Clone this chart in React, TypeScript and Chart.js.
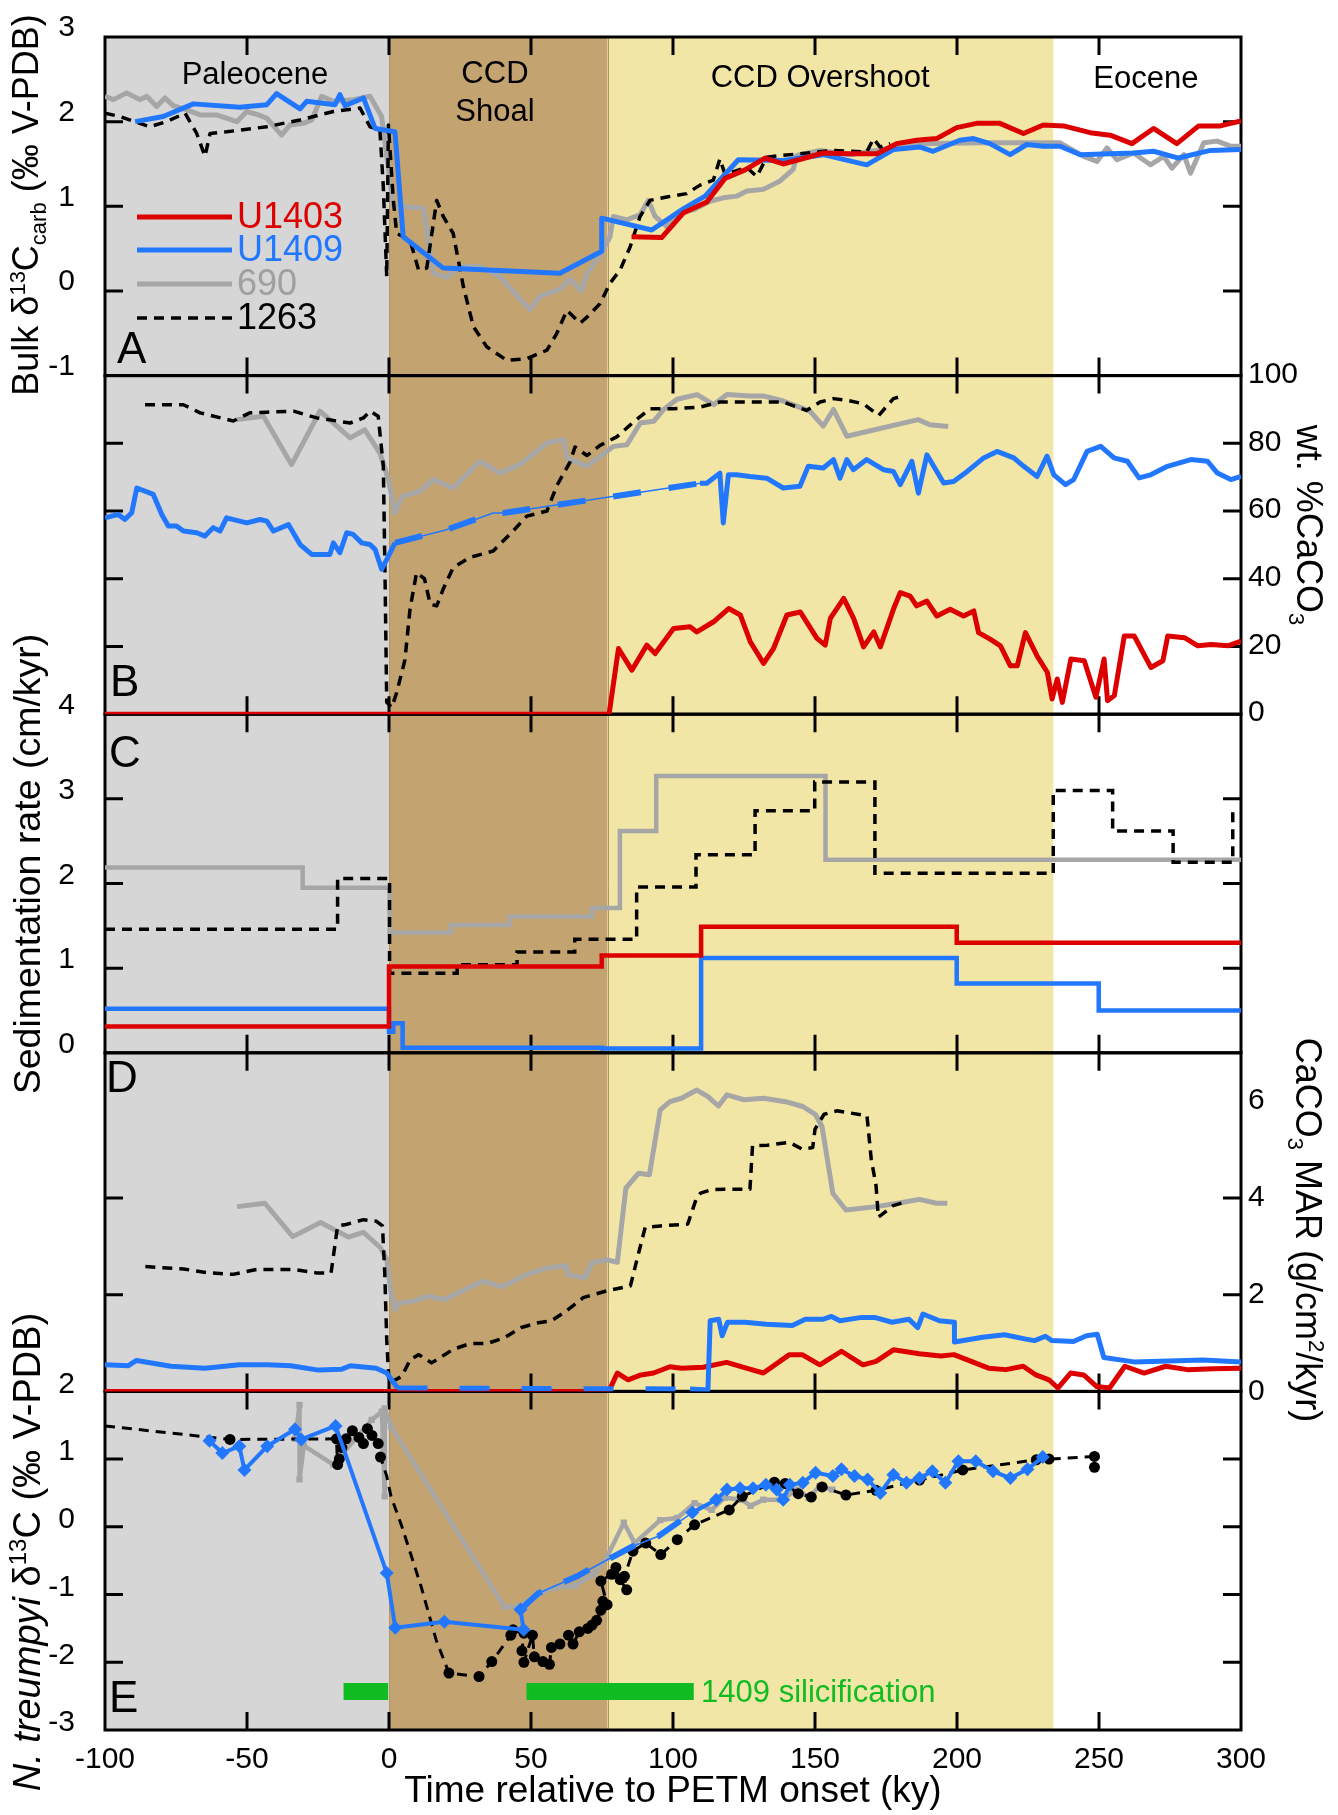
import React, { useEffect, useRef } from 'react';
import { Chart, registerables } from 'chart.js';

Chart.register(...registerables);

const FONT = '"Liberation Sans", Arial, Helvetica, sans-serif';
const RED = '#dd0000';
const BLUE = '#2277ff';
const GRAY = '#a6a6a6';
const BLACK = '#000000';
const GREEN = '#11bb22';

// ---------- axes / ticks ----------
const X_TICKS = [-100, -50, 0, 50, 100, 150, 200, 250, 300];
const A_TICKS = [-1, 0, 1, 2, 3];
const B_TICKS = [0, 20, 40, 60, 80, 100];
const C_TICKS = [0, 1, 2, 3, 4];
const D_TICKS = [0, 2, 4, 6];
const E_TICKS = [-3, -2, -1, 0, 1, 2];

// background intervals (ky)
const REGION_EDGES = [-100, 0, 77, 234, 300];
const REGION_COLORS = ['#d6d6d6', '#c3a370', '#f2e6a6', '#ffffff'];

// ---------- Panel A: bulk d13C ----------
const A_U1403_T = [85.4, 96, 103.6, 111.9, 118.3, 125.4, 132.4, 138.8, 152.9, 162, 171.8, 178.7, 185.8, 192.8, 199.9, 206.9, 215.1, 223.4, 230.4, 237.5, 246.9, 253.9, 261.6, 269.2, 277.4, 285.1, 292.7, 300];
const A_U1403_V = [0.64, 0.63, 0.92, 1.05, 1.33, 1.43, 1.57, 1.5, 1.63, 1.62, 1.62, 1.74, 1.78, 1.8, 1.93, 1.98, 1.98, 1.86, 1.96, 1.95, 1.87, 1.84, 1.74, 1.92, 1.74, 1.95, 1.95, 2.01];
const A_U1409_T = [-89.4, -79.5, -68.9, -52.5, -43, -39.6, -31.3, -29, -19, -17.3, -15.5, -9, -4.9, 2.1, 5.0, 19.1, 60.2, 74.9, 74.9, 92.5, 103.6, 111.3, 123, 138.8, 152.9, 168.2, 177.6, 187, 191.6, 201, 205.8, 211.6, 218.7, 224.6, 230.4, 236.3, 243.4, 254, 262.2, 269.2, 278, 289.2, 300];
const A_U1409_V = [2.0, 2.06, 2.21, 2.17, 2.2, 2.33, 2.15, 2.24, 2.2, 2.32, 2.19, 2.28, 1.92, 1.88, 0.64, 0.27, 0.21, 0.47, 0.86, 0.72, 0.97, 1.12, 1.55, 1.54, 1.61, 1.49, 1.67, 1.7, 1.65, 1.78, 1.8, 1.74, 1.61, 1.73, 1.71, 1.71, 1.61, 1.62, 1.63, 1.65, 1.57, 1.66, 1.67];
const A_690_T = [-100, -97, -92.4, -87.7, -85.3, -81.8, -78.9, -76, -71.2, -66.5, -60.7, -53.6, -50.1, -46, -43, -37.8, -34.9, -30.2, -27.2, -23.7, -19.6, -12.6, -6.7, -2.6, 1.5, 12.1, 15.6, 20.3, 25, 32, 39, 49.6, 53.2, 60.2, 63.7, 67.8, 69.6, 74.3, 77.8, 79, 83.7, 88.4, 91.3, 93.7, 97.8, 102.5, 107.2, 113, 117.7, 122.4, 126, 131.8, 137.7, 142.4, 143.5, 151.8, 162.3, 185.8, 209.3, 236.3, 244.6, 249.3, 252.8, 256.3, 262.2, 268.1, 272.8, 275.7, 279.9, 282.2, 286.9, 291.6, 296.3, 300];
const A_690_V = [2.3, 2.26, 2.34, 2.26, 2.3, 2.18, 2.28, 2.19, 2.14, 2.08, 2.08, 2.0, 2.12, 2.08, 2.04, 1.84, 1.96, 1.98, 2.02, 2.3, 2.24, 2.26, 2.3, 2.06, 1.0, 0.98, 0.21, 0.16, 0.29, 0.29, 0.17, -0.22, -0.06, 0.02, 0.14, 0.0, 0.2, 0.42, 0.64, 0.88, 0.84, 0.9, 1.07, 0.88, 0.76, 0.92, 0.96, 1.06, 1.1, 1.12, 1.18, 1.2, 1.3, 1.44, 1.6, 1.66, 1.61, 1.74, 1.75, 1.75, 1.59, 1.53, 1.69, 1.55, 1.63, 1.49, 1.59, 1.45, 1.61, 1.39, 1.75, 1.77, 1.71, 1.71];
const A_1263_T = [-100, -94.7, -84.2, -78.3, -71.8, -67.7, -64.8, -63, -57.2, -43, -31.3, -19.6, -10.2, -6.7, -3.2, -2, -0.8, -0.2, 1.5, 2.7, 7.4, 10.4, 13.3, 16.8, 19.1, 22.6, 26.2, 29.7, 34.4, 41.5, 48.5, 55.6, 59.1, 62.6, 67.3, 69.7, 74.3, 77.8, 81.4, 84.9, 88.4, 91.9, 97.8, 104.8, 109.5, 114.2, 116.5, 118.3, 122.4, 126, 129.5, 133, 137.7, 144.7, 156.5, 168.2, 170.6, 172.9, 176.5];
const A_1263_V = [2.1, 2.06, 1.94, 2.0, 2.1, 1.86, 1.59, 1.86, 1.88, 1.94, 2.02, 2.12, 2.16, 1.94, 1.9, 1.23, 0.17, 1.96, 1.08, 0.68, 0.6, 0.25, 0.27, 1.07, 0.88, 0.68, 0.05, -0.42, -0.66, -0.82, -0.8, -0.7, -0.5, -0.23, -0.38, -0.31, -0.15, 0.09, 0.25, 0.52, 0.88, 1.07, 1.11, 1.15, 1.25, 1.31, 1.56, 1.38, 1.42, 1.46, 1.35, 1.58, 1.6, 1.62, 1.66, 1.64, 1.8, 1.7, 1.74];

// ---------- Panel B: wt% CaCO3 ----------
const B_U1403_T = [-100, 77.5, 80.8, 85.5, 90.8, 93.7, 100.2, 106, 108.4, 114.3, 119.6, 123.7, 127.2, 131.9, 135.4, 140.1, 144.8, 150.7, 153.6, 155.4, 160.1, 163.6, 167.1, 170.7, 173, 177.7, 180, 183.5, 185.8, 189.4, 192.9, 197.6, 202.3, 205.9, 207.6, 211.8, 215.3, 218.8, 221.2, 224.1, 228.2, 231.8, 233.5, 235.3, 237.1, 240.1, 244.8, 248.9, 251.8, 253, 255.4, 258.9, 262.4, 268.3, 272.5, 274.2, 280.1, 284.8, 289.5, 295.4, 300];
const B_U1403_V = [0, 0, 19.4, 13, 20.4, 17.9, 25.3, 25.8, 24.3, 27.3, 31.2, 29.3, 21.4, 15, 19.4, 29.3, 30.2, 22.4, 20.4, 28.3, 34.2, 28.3, 19.9, 24.3, 19.9, 31.2, 35.9, 34.9, 32, 33.4, 29, 31, 29, 30.5, 24.1, 22.1, 20.2, 14.3, 14.3, 24.1, 17.2, 12.4, 4.5, 10.4, 3.5, 16.3, 15.8, 5, 16.3, 4, 5.5, 23.1, 23.1, 13.8, 15.8, 23.1, 22.6, 20.2, 20.6, 20.2, 21.6];
const B_U1409_PRE_T = [-100, -95.3, -93, -90.6, -88.8, -83, -80, -77.7, -74.8, -72.4, -67.7, -64.8, -61.9, -59.5, -57.2, -50.1, -45.4, -43, -40.7, -35.4, -31.3, -27.2, -20.8, -19.6, -17.3, -14.9, -12.6, -9.6, -6.7, -4.9, -2.6, -0.2, 2.1];
const B_U1409_PRE_V = [58, 59, 57.5, 59.5, 66.8, 64.9, 59, 55.6, 55.6, 54.1, 53.6, 52.6, 55.1, 54.1, 58, 56.5, 57.5, 57, 54.1, 56, 50.1, 47.2, 47.2, 50.6, 47.7, 53.6, 53.1, 50.6, 50.1, 48.7, 42.8, 46.7, 50.6];
const B_U1409_GAP_T = [2.1, 20.3, 36.7, 40.2, 109.5];
const B_U1409_GAP_V = [50.6, 54.5, 59.4, 59.4, 68.2];
const B_U1409_POST_T = [109.5, 111.9, 116.5, 117.7, 119.5, 122.4, 127.1, 133, 138.8, 144.7, 147.6, 152.9, 156.5, 158.8, 161.2, 163.5, 168.2, 174.1, 177.6, 180, 184.1, 186.4, 189.4, 195.3, 198.8, 203.6, 209.4, 214.1, 220, 223.5, 228.2, 231.7, 234.1, 238.2, 241.1, 245.8, 250.6, 255.3, 260, 264.1, 268.2, 274.1, 282.3, 288.2, 291.7, 296.4, 300];
const B_U1409_POST_V = [68.2, 68.2, 71.2, 56.5, 70.7, 70.7, 70.2, 69.7, 66.8, 67.3, 73.2, 72.7, 75.2, 69.7, 75.2, 72.2, 75.2, 72.2, 71.7, 67.8, 74.7, 65.3, 76.6, 68.3, 68.7, 71.7, 75.7, 77.6, 75.7, 73.2, 70.2, 76.2, 70.7, 67.8, 69.3, 77.6, 79.1, 75.7, 74.7, 69.8, 70.7, 73.2, 75.2, 74.7, 71.2, 69.3, 70.2];
const B_690_T = [-53.6, -44.2, -34.3, -24.3, -13.7, -8.5, -3.2, -0.2, 2.1, 4.5, 10.9, 15.6, 22.6, 32, 39, 46.1, 55.6, 61.5, 62.6, 69.7, 79.1, 83.8, 88.5, 93.2, 96.7, 101.4, 108.5, 114.3, 119, 127.1, 131.8, 138.8, 148.2, 152.9, 156.5, 161.2, 186.3, 190.5, 196.9];
const B_690_V = [87, 88, 73.7, 89.5, 81.6, 84, 77.1, 69.3, 59.4, 64.3, 65.8, 69.3, 66.8, 74.7, 71.2, 73.7, 80.1, 81.1, 75.7, 73.2, 79.1, 79.6, 86, 86.5, 90, 93, 94.4, 91.4, 94.4, 94, 94, 92.5, 89.5, 85.1, 90, 82.1, 87, 85.5, 85];
const B_1263_T = [-85.9, -72.4, -66.5, -54.8, -49, -43, -33.6, -25.4, -13.7, -9, -6.7, -3.8, -2, -1.4, -0.8, 1, 2.7, 5.6, 7.4, 9.7, 12.5, 14.5, 16.8, 19.1, 22.6, 28.5, 36.7, 43.8, 48.5, 55.6, 59.1, 63.7, 65.5, 69.7, 74.3, 80.2, 86.1, 91.9, 100.1, 109.5, 116.5, 127.1, 138.8, 147, 151.8, 156.5, 161.2, 167, 172.4, 177.6, 181.6];
const B_1263_V = [91.4, 91.4, 89, 86.6, 89, 89.2, 89.5, 87.5, 86, 87.5, 89.5, 88, 73.3, 40.9, 3.5, 2, 6.4, 16, 31, 41.8, 40, 32.5, 32, 37, 43.3, 46.3, 48.2, 54.2, 58.5, 60, 67.5, 74.4, 78.9, 76.4, 79.4, 81.9, 86.3, 90.2, 90.2, 90.7, 92.2, 92.2, 92.2, 89.7, 92.2, 93.2, 92.7, 91.7, 88.2, 93.2, 94.2];

// ---------- Panel C: sedimentation rate (step functions) ----------
const C_U1403_T = [-100, 0, 74.9, 109.9, 199.9, 300];
const C_U1403_V = [0.31, 1.02, 1.15, 1.49, 1.3, 1.3];
const C_U1409_T = [-100, 0, 1.5, 4.8, 75, 109.9, 199.9, 249.9, 300];
const C_U1409_V = [0.52, 0.25, 0.35, 0.06, 0.05, 1.12, 0.82, 0.5, 0.5];
const C_690_T = [-100, -30.4, 0.2, 21.8, 42.4, 71.4, 81.3, 94.1, 153.7, 300];
const C_690_V = [2.19, 1.95, 1.42, 1.51, 1.61, 1.71, 2.62, 3.27, 2.28, 2.28];
const C_1263_T = [-100, -18.1, 0.2, 24, 45.1, 65.4, 87.2, 108.1, 128.9, 149.9, 171.1, 233.9, 254.8, 276.1, 297.1, 300];
const C_1263_V = [1.46, 2.06, 0.94, 1.04, 1.19, 1.34, 1.96, 2.34, 2.86, 3.2, 2.12, 3.1, 2.62, 2.25, 2.82, 2.82];

// ---------- Panel D: CaCO3 MAR ----------
const D_U1403_T = [-100, 77.4, 80.4, 84.2, 88.7, 93.2, 98.9, 103, 110.6, 118.9, 125.8, 131.8, 141, 145.5, 151.7, 159.3, 166.9, 171.5, 177.6, 186.7, 194.3, 198.9, 205, 211.1, 217.2, 223.3, 227.8, 232.4, 235.5, 240, 244.6, 249.2, 253.7, 259.1, 265.9, 273.5, 281.1, 290.3, 300];
const D_U1403_V = [0, 0, 0.38, 0.24, 0.34, 0.38, 0.51, 0.48, 0.5, 0.6, 0.48, 0.38, 0.76, 0.76, 0.55, 0.83, 0.55, 0.62, 0.86, 0.78, 0.73, 0.76, 0.62, 0.48, 0.45, 0.52, 0.34, 0.24, 0.07, 0.38, 0.34, 0.1, 0.07, 0.52, 0.38, 0.52, 0.45, 0.47, 0.48];
const D_U1409_PRE_T = [-100, -91.9, -88.9, -76.8, -64.8, -52.7, -42.9, -34.6, -24.8, -16.6, -13.6, -4.5, -0.8, 3];
const D_U1409_PRE_V = [0.55, 0.53, 0.64, 0.52, 0.48, 0.55, 0.55, 0.53, 0.44, 0.46, 0.53, 0.48, 0.38, 0.07];
const D_U1409_GAP_T = [3, 106];
const D_U1409_GAP_V = [0.07, 0.05];
const D_U1409_POST_T = [106, 112.3, 113.1, 116.1, 117.3, 119.2, 125.3, 132.9, 142, 146.6, 152.7, 155.8, 158.8, 166.4, 171, 177.1, 183.1, 186.2, 188, 193.8, 199.1, 199.1, 209, 216.7, 224.3, 227.3, 231.1, 233.4, 241, 245.6, 249.4, 251.7, 262.3, 274.5, 286.7, 300];
const D_U1409_POST_V = [0.05, 0.03, 1.46, 1.49, 1.15, 1.43, 1.43, 1.39, 1.36, 1.49, 1.49, 1.55, 1.46, 1.53, 1.53, 1.43, 1.49, 1.32, 1.6, 1.46, 1.43, 1.02, 1.12, 1.17, 1.08, 1.05, 1.14, 1.05, 1.03, 1.15, 1.18, 0.7, 0.61, 0.63, 0.65, 0.61];
const D_690_T = [-53.5, -43.7, -33.9, -24.1, -14.3, -9, -3, -0.8, 0.7, 2.2, 3.7, 9, 13.5, 19.5, 25.5, 33.1, 39.8, 48.1, 55.6, 62.4, 63.1, 69.1, 71.4, 76.7, 80.4, 83.4, 87.9, 91.7, 95.5, 98.9, 103, 108.4, 112.2, 116, 119, 125, 131.9, 139.6, 145.7, 150.2, 152.5, 156.3, 160.9, 171.5, 179.1, 186.8, 192.8, 196.6];
const D_690_V = [3.82, 3.89, 3.2, 3.49, 3.19, 3.29, 2.97, 2.73, 2.04, 1.69, 1.83, 1.87, 1.97, 1.9, 2.07, 2.28, 2.16, 2.41, 2.55, 2.6, 2.41, 2.35, 2.66, 2.72, 2.67, 4.2, 4.51, 4.48, 5.82, 5.99, 6.06, 6.23, 6.1, 5.9, 6.13, 6.03, 6.06, 5.99, 5.89, 5.72, 5.47, 4.09, 3.75, 3.82, 3.89, 3.97, 3.89, 3.89];
const D_1263_T = [-85.8, -72.3, -63.3, -55, -46.7, -33.2, -25.6, -20.4, -18.1, -15.1, -9, -4.5, -2.3, -1.5, -0.8, 0, 4.5, 7.5, 10.5, 15, 22.6, 28.6, 34.6, 40.6, 46.6, 52.6, 57.2, 62.4, 68.4, 76.7, 85, 87.2, 90.2, 95.5, 105.2, 108.3, 109.7, 113.5, 118.1, 127.1, 128, 133.2, 140.9, 145.4, 149.2, 150, 153.2, 157.7, 168.3, 169.8, 171.5, 172.3, 177.5, 181.4];
const D_1263_V = [2.58, 2.53, 2.45, 2.42, 2.52, 2.52, 2.45, 2.45, 3.42, 3.45, 3.55, 3.52, 3.42, 2.45, 1.07, 0.17, 0.31, 0.66, 0.76, 0.59, 0.87, 0.99, 0.99, 1.11, 1.32, 1.42, 1.46, 1.66, 1.94, 2.08, 2.18, 2.7, 3.39, 3.42, 3.46, 4.0, 4.1, 4.17, 4.18, 4.18, 5.08, 5.09, 5.15, 5.01, 5.04, 5.42, 5.73, 5.8, 5.7, 4.8, 4.25, 3.6, 3.84, 3.91];

// ---------- Panel E: N. treumpyi d13C ----------
const E_U1409_PRE_T = [-63.2, -58.7, -52.7, -50.9, -42.9, -33.1, -30.9, -18.8, -0.8, 2.2, 19.5, 47.4, 46.3];
const E_U1409_PRE_V = [1.27, 1.09, 1.19, 0.84, 1.19, 1.44, 1.29, 1.49, -0.68, -1.49, -1.4, -1.52, -1.22];
const E_U1409_GAP_T = [46.3, 52.6, 66.2, 76.7, 85.7, 94.8, 106.8];
const E_U1409_GAP_V = [-1.22, -0.98, -0.73, -0.49, -0.29, -0.14, 0.21];
const E_U1409_POST_T = [106.8, 115.2, 119, 123.6, 128.2, 132.7, 136.5, 138.8, 141.1, 145.7, 150.2, 156.3, 159.3, 163.9, 168.5, 173, 177.6, 182.2, 186.8, 191.3, 195.9, 200.5, 206.6, 212.7, 218.8, 224.8, 230.2];
const E_U1409_POST_V = [0.21, 0.4, 0.55, 0.57, 0.57, 0.62, 0.55, 0.4, 0.62, 0.65, 0.8, 0.75, 0.85, 0.75, 0.7, 0.5, 0.77, 0.65, 0.72, 0.82, 0.65, 0.97, 0.97, 0.82, 0.72, 0.85, 1.03];
const E_690_T = [-33, -31.5, -31.5, -30, -19.6, -6.1, -2.5, -1.5, -1.5, 0.7, 40.6, 45.9, 52.6, 58.6, 65.4, 72.2, 76.7, 82.7, 86.5, 95.5, 101.5, 107.6, 113.6, 118.2, 124.2, 127.3, 131.8, 137.9, 144, 147.8, 151.6, 156.1];
const E_690_V = [1.3, 1.8, 0.7, 1.2, 0.92, 1.58, 1.7, 0.45, 1.75, 1.48, -1.18, -1.18, -0.98, -0.9, -0.87, -0.7, -0.45, 0.06, -0.24, 0.1, 0.13, 0.35, 0.25, 0.43, 0.4, 0.31, 0.4, 0.4, 0.55, 0.43, 0.6, 0.55];
const E_1263_T = [-100, -56, -18.5, -18.1, -17.5, -16.6, -15.1, -12.9, -10.6, -9, -7.6, -6, -3.8, -3, -0.8, 0.7, 4.5, 11.3, 16.6, 21.1, 31.7, 36.2, 42.9, 43.7, 47.5, 46.8, 47.5, 50.5, 51.2, 54.2, 56.5, 57.2, 60.2, 63.2, 64.8, 67, 70, 71.5, 73.1, 74.6, 75.3, 76.8, 74.6, 78.4, 79.9, 81.4, 83.7, 82.9, 85.9, 90.4, 95.7, 101.5, 107.6, 119.8, 124.4, 135.7, 139.5, 144.1, 148.7, 152.5, 160.9, 171.5, 186.8, 202, 227.9, 232.4, 248.4, 248.4];
const E_1263_V = [1.49, 1.29, 1.3, 0.92, 1.0, 1.17, 1.3, 1.42, 1.32, 1.23, 1.45, 1.35, 1.23, 1.03, 0.75, 0.45, 0.01, -0.88, -1.67, -2.16, -2.21, -1.99, -1.6, -1.52, -1.57, -1.83, -2.0, -1.6, -1.92, -1.99, -2.03, -1.78, -1.73, -1.6, -1.73, -1.55, -1.5, -1.45, -1.38, -1.23, -1.1, -1.15, -0.8, -0.7, -0.6, -0.78, -0.93, -0.73, -0.36, -0.24, -0.41, -0.19, 0.03, 0.25, 0.45, 0.66, 0.64, 0.49, 0.44, 0.59, 0.47, 0.54, 0.69, 0.84, 0.99, 1.0, 1.04, 0.88];
const E_SILICA1_T = [-16, -0.3];
const E_SILICA2_T = [48.4, 107.3];
const E_SILICA_V = [-2.43, -2.43];

// ---------- helpers ----------
const pts = (t: number[], v: number[]) => t.map((x, i) => ({ x, y: v[i] }));

function ds(yAxisID: string, t: number[], v: number[], color: string, width: number, extra: any = {}) {
  return {
    type: 'line',
    yAxisID,
    data: pts(t, v),
    borderColor: color,
    backgroundColor: color,
    borderWidth: width,
    pointRadius: 0,
    pointHoverRadius: 0,
    fill: false,
    tension: 0,
    borderJoinStyle: 'round',
    ...extra,
  };
}

type Seg = [string, 'n' | 'i' | 'sup' | 'sub'];

function drawRich(ctx: CanvasRenderingContext2D, segs: Seg[], x: number, y: number, rot: number, size: number) {
  ctx.save();
  ctx.translate(x, y);
  ctx.rotate(rot);
  const fontFor = (k: string) =>
    `${k === 'i' ? 'italic ' : ''}${k === 'sup' || k === 'sub' ? Math.round(size * 0.62) : size}px ${FONT}`;
  let total = 0;
  const widths = segs.map(([t, k]) => {
    ctx.font = fontFor(k);
    const w = ctx.measureText(t).width;
    total += w;
    return w;
  });
  let cx = -total / 2;
  ctx.textAlign = 'left';
  ctx.textBaseline = 'alphabetic';
  ctx.fillStyle = '#000';
  segs.forEach(([t, k], i) => {
    ctx.font = fontFor(k);
    const dy = k === 'sup' ? -size * 0.36 : k === 'sub' ? size * 0.22 : 0;
    ctx.fillText(t, cx, dy);
    cx += widths[i];
  });
  ctx.restore();
}

const PANELS = [
  { id: 'yA', ticks: A_TICKS },
  { id: 'yB', ticks: B_TICKS },
  { id: 'yC', ticks: C_TICKS },
  { id: 'yD', ticks: D_TICKS },
  { id: 'yE', ticks: E_TICKS },
];

const framePlugin = {
  id: 'frame',
  beforeDatasetsDraw(chart: any) {
    const { ctx, chartArea: ca, scales } = chart;
    const xs = scales.x;
    ctx.save();
    for (let i = 0; i < REGION_EDGES.length - 1; i++) {
      const x0 = xs.getPixelForValue(REGION_EDGES[i]);
      const x1 = xs.getPixelForValue(REGION_EDGES[i + 1]);
      ctx.fillStyle = REGION_COLORS[i];
      ctx.fillRect(x0, ca.top, x1 - x0, ca.bottom - ca.top);
    }
    ctx.strokeStyle = '#b39562';
    ctx.lineWidth = 1;
    [REGION_EDGES[1], REGION_EDGES[2]].forEach((t) => {
      const px = Math.round(xs.getPixelForValue(t)) + 0.5;
      ctx.beginPath();
      ctx.moveTo(px, ca.top);
      ctx.lineTo(px, ca.bottom);
      ctx.stroke();
    });

    ctx.strokeStyle = '#000';
    ctx.lineWidth = 3;
    ctx.lineCap = 'butt';
    const TL = 18;
    PANELS.forEach((p) => {
      const s = scales[p.id];
      ctx.strokeRect(ca.left, s.top, ca.right - ca.left, s.bottom - s.top);
      ctx.beginPath();
      X_TICKS.slice(1, -1).forEach((t) => {
        const px = xs.getPixelForValue(t);
        ctx.moveTo(px, s.top);
        ctx.lineTo(px, s.top + TL);
        ctx.moveTo(px, s.bottom);
        ctx.lineTo(px, s.bottom - TL);
      });
      p.ticks.slice(1, -1).forEach((v) => {
        if (v <= s.min || v >= s.max) return;
        const py = s.getPixelForValue(v);
        ctx.moveTo(ca.left, py);
        ctx.lineTo(ca.left + TL, py);
        ctx.moveTo(ca.right, py);
        ctx.lineTo(ca.right - TL, py);
      });
      ctx.stroke();
    });
    ctx.restore();
  },
};

const textPlugin = {
  id: 'texts',
  afterDraw(chart: any) {
    const { ctx, chartArea: ca, scales } = chart;
    const xs = scales.x;
    ctx.save();
    // region names (alphabetic baselines, offset from top of plot)
    ctx.fillStyle = '#000';
    ctx.textAlign = 'center';
    ctx.textBaseline = 'alphabetic';
    ctx.font = `31px ${FONT}`;
    const regionLabels: [string, number, number][] = [
      ['Paleocene', -47.2, 47],
      ['CCD', 37.3, 46],
      ['Shoal', 37.3, 84],
      ['CCD Overshoot', 151.8, 50],
      ['Eocene', 266.5, 51],
    ];
    regionLabels.forEach(([s, t, dy]) => ctx.fillText(s, xs.getPixelForValue(t), ca.top + dy));

    // legend
    const legend: [string, string, string, number[], number][] = [
      ['U1403', RED, RED, [], 5],
      ['U1409', BLUE, BLUE, [], 5],
      ['690', GRAY, '#a0a0a0', [], 5],
      ['1263', BLACK, BLACK, [10, 7], 3.5],
    ];
    const ly = [217, 250, 284, 318];
    legend.forEach(([label, lc, tc, dash, w], i) => {
      ctx.strokeStyle = lc;
      ctx.lineWidth = w;
      ctx.setLineDash(dash);
      ctx.beginPath();
      ctx.moveTo(137, ly[i]);
      ctx.lineTo(232, ly[i]);
      ctx.stroke();
      ctx.setLineDash([]);
      ctx.fillStyle = tc;
      ctx.font = `36px ${FONT}`;
      ctx.textAlign = 'left';
      ctx.textBaseline = 'middle';
      ctx.fillText(label, 237, ly[i] + 1);
    });

    // panel letters
    ctx.fillStyle = '#000';
    ctx.font = `44px ${FONT}`;
    ctx.textAlign = 'left';
    ctx.textBaseline = 'alphabetic';
    ctx.fillText('A', 117, scales.yA.bottom - 13);
    ctx.fillText('B', 110, scales.yB.bottom - 18);
    ctx.fillText('C', 109, scales.yC.top + 53);
    ctx.fillText('D', 106, scales.yD.top + 39);
    ctx.fillText('E', 109, scales.yE.bottom - 18);

    // right-hand tick labels (B and D)
    ctx.font = `30px ${FONT}`;
    ctx.textBaseline = 'middle';
    ctx.textAlign = 'left';
    B_TICKS.forEach((v) => ctx.fillText(String(v), ca.right + 7, scales.yB.getPixelForValue(v) - 1));
    D_TICKS.forEach((v) => ctx.fillText(String(v), ca.right + 7, scales.yD.getPixelForValue(v)));

    // silicification label
    ctx.fillStyle = GREEN;
    ctx.font = `31px ${FONT}`;
    ctx.textBaseline = 'alphabetic';
    ctx.fillText('1409 silicification', xs.getPixelForValue(109.9), scales.yE.getPixelForValue(E_SILICA_V[0]) + 11);

    // axis titles
    const L = -Math.PI / 2;
    const R = Math.PI / 2;
    drawRich(ctx, [['Bulk ', 'n'], ['δ', 'n'], ['13', 'sup'], ['C', 'n'], ['carb', 'sub'], [' (‰ V-PDB)', 'n']], 38, 205, L, 36);
    drawRich(ctx, [['Sedimentation rate (cm/kyr)', 'n']], 40, 864, L, 37.5);
    drawRich(ctx, [['N. treumpyi', 'i'], [' δ', 'n'], ['13', 'sup'], ['C (‰ V-PDB)', 'n']], 40, 1552, L, 38);
    drawRich(ctx, [['wt. %CaCO', 'n'], ['3', 'sub']], 1297, 525, R, 36);
    drawRich(ctx, [['CaCO', 'n'], ['3', 'sub'], [' MAR (g/cm', 'n'], ['2', 'sup'], ['/kyr)', 'n']], 1296, 1230, R, 36);
    ctx.restore();
  },
};

function yScale(min: number, max: number, step: number, weight: number, showLabels: boolean, labelOffset: number) {
  return {
    type: 'linear',
    position: 'left',
    stack: 'panels',
    stackWeight: 1,
    weight,
    min,
    max,
    grid: { display: false, drawTicks: false },
    border: { display: false },
    ticks: {
      display: showLabels,
      stepSize: step,
      autoSkip: false,
      font: { size: 30, family: FONT },
      color: '#000',
      padding: 30,
      labelOffset,
    },
    afterFit: (s: any) => {
      s.width = 105;
      s.paddingTop = 0;
      s.paddingBottom = 0;
    },
  };
}

export default function App() {
  const ref = useRef<HTMLCanvasElement>(null);
  useEffect(() => {
    const dashBlack = { borderDash: [10, 7], borderCapStyle: 'butt' };
    const datasets: any[] = [
      // Panel A
      ds('yA', A_U1403_T, A_U1403_V, RED, 5),
      ds('yA', A_U1409_T, A_U1409_V, BLUE, 5),
      ds('yA', A_1263_T, A_1263_V, BLACK, 3.5, dashBlack),
      ds('yA', A_690_T, A_690_V, GRAY, 5),
      // Panel B
      ds('yB', B_U1403_T, B_U1403_V, RED, 5),
      ds('yB', B_U1409_PRE_T, B_U1409_PRE_V, BLUE, 5),
      ds('yB', B_U1409_GAP_T, B_U1409_GAP_V, BLUE, 6, { borderDash: [28, 28] }),
      ds('yB', B_U1409_GAP_T, B_U1409_GAP_V, BLUE, 1.5),
      ds('yB', B_U1409_POST_T, B_U1409_POST_V, BLUE, 5),
      ds('yB', B_1263_T, B_1263_V, BLACK, 3.5, dashBlack),
      ds('yB', B_690_T, B_690_V, GRAY, 5),
      // Panel C
      ds('yC', C_U1403_T, C_U1403_V, RED, 4.5, { stepped: true, borderJoinStyle: 'miter' }),
      ds('yC', C_U1409_T, C_U1409_V, BLUE, 4.5, { stepped: true, borderJoinStyle: 'miter' }),
      ds('yC', C_1263_T, C_1263_V, BLACK, 3.5, { ...dashBlack, stepped: true, borderJoinStyle: 'miter' }),
      ds('yC', C_690_T, C_690_V, GRAY, 4.5, { stepped: true, borderJoinStyle: 'miter' }),
      // Panel D
      ds('yD', D_U1409_PRE_T, D_U1409_PRE_V, BLUE, 5),
      ds('yD', D_U1409_GAP_T, D_U1409_GAP_V, BLUE, 5, { borderDash: [30, 32] }),
      ds('yD', D_U1409_POST_T, D_U1409_POST_V, BLUE, 5),
      ds('yD', D_U1403_T, D_U1403_V, RED, 5),
      ds('yD', D_1263_T, D_1263_V, BLACK, 3.5, dashBlack),
      ds('yD', D_690_T, D_690_V, GRAY, 5),
      // Panel E
      ds('yE', E_U1409_PRE_T, E_U1409_PRE_V, BLUE, 4, { pointRadius: 7, pointStyle: 'rectRot', pointBorderWidth: 0 }),
      ds('yE', E_U1409_GAP_T, E_U1409_GAP_V, BLUE, 6, { borderDash: [28, 24] }),
      ds('yE', E_U1409_GAP_T, E_U1409_GAP_V, BLUE, 1.5),
      ds('yE', E_U1409_POST_T, E_U1409_POST_V, BLUE, 4, { pointRadius: 7, pointStyle: 'rectRot', pointBorderWidth: 0 }),
      ds('yE', E_1263_T, E_1263_V, BLACK, 3, {
        ...dashBlack,
        pointStyle: 'circle',
        pointBorderWidth: 0,
        pointRadius: (c: any) => {
          const x = c.raw ? c.raw.x : 0;
          return x < -57 || (x > -1 && x < 20) ? 0 : 5.5;
        },
      }),
      ds('yE', E_690_T, E_690_V, GRAY, 4.5, { pointRadius: 4.5, pointStyle: 'rect', pointBorderWidth: 0 }),
      ds('yE', E_SILICA1_T, E_SILICA_V, GREEN, 17, { borderCapStyle: 'butt' }),
      ds('yE', E_SILICA2_T, E_SILICA_V, GREEN, 17, { borderCapStyle: 'butt' }),
    ];

    const chart = new Chart(ref.current as HTMLCanvasElement, {
      type: 'line',
      data: { datasets },
      options: {
        responsive: false,
        animation: false,
        devicePixelRatio: 1,
        events: [],
        layout: { padding: { left: 0, right: 97, top: 37, bottom: 0 } },
        plugins: { legend: { display: false }, tooltip: { enabled: false }, title: { display: false } },
        scales: {
          x: {
            type: 'linear',
            position: 'bottom',
            min: -100,
            max: 300,
            grid: { display: false, drawTicks: false },
            border: { display: false },
            ticks: {
              stepSize: 50,
              autoSkip: false,
              maxRotation: 0,
              font: { size: 30, family: FONT },
              color: '#000',
              padding: 12,
            },
            title: {
              display: true,
              text: 'Time relative to PETM onset (ky)',
              font: { size: 37, family: FONT },
              color: '#000',
              padding: { top: 0, bottom: 1 },
            },
            afterFit: (s: any) => {
              s.height = 85;
            },
          },
          yA: yScale(-1, 3, 1, 5, true, -9),
          yB: yScale(0, 100, 20, 4, false, 0),
          yC: yScale(0, 4, 1, 3, true, -8),
          yD: yScale(0, 7, 2, 2, false, 0),
          yE: yScale(-3, 2, 1, 1, true, -7),
        } as any,
      } as any,
      plugins: [framePlugin, textPlugin],
    } as any);
    return () => chart.destroy();
  }, []);

  return (
    <div style={{ position: 'absolute', left: 0, top: 0, width: 1338, height: 1815, background: '#fff' }}>
      <canvas ref={ref} width={1338} height={1815} style={{ display: 'block', width: 1338, height: 1815 }} />
    </div>
  );
}
